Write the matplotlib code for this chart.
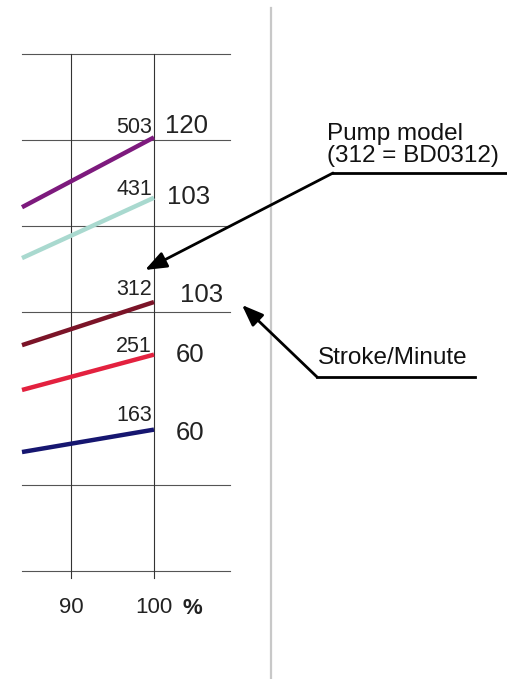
import matplotlib
matplotlib.use('Agg')
import matplotlib.pyplot as plt

plt.rcParams['font.family'] = ['Liberation Sans', 'DejaVu Sans']

# pump models, stroke rate, and line values at the left edge / at 100 %
models = ['503', '431', '312', '251', '163']
strokes = ['120', '103', '103', '60', '60']
x_pct = [84.1, 100]
y_left = [4.22, 3.63, 2.62, 2.10, 1.38]
y_right = [5.03, 4.33, 3.12, 2.51, 1.64]
colors = ['#7d1a7d', '#a9d9cf', '#7b1428', '#e3213f', '#161670']

grid_y = [0, 1, 3, 4, 5, 6]
tick_x = [90, 100]

fig = plt.figure(figsize=(5.07, 6.79), dpi=100)
ax = fig.add_axes([0, 0, 1, 1])
ax.set_xlim(81.45, 142.53)
ax.set_ylim(-1.253, 6.624)
ax.axis('off')

# grid
for gy in grid_y:
    ax.plot([84.1, 109.2], [gy, gy], color='#555555', lw=0.8, zorder=1)
for gx in tick_x:
    ax.plot([gx, gx], [-0.08, 6], color='#333333', lw=0.8, zorder=1)

# separator line
ax.plot([114.1, 114.1], [-1.3, 6.53], color='#c8c8c8', lw=1.6, zorder=1)

# pump lines and labels
lab_y_model = [5.15, 4.42, 3.27, 2.61, 1.80]
lab_y_stroke = [5.16, 4.34, 3.20, 2.50, 1.60]
lab_x_stroke = [101.3, 101.6, 103.1, 102.6, 102.6]
for i in range(len(models)):
    ax.plot(x_pct, [y_left[i], y_right[i]], color=colors[i], lw=3.2,
            solid_capstyle='butt', zorder=3)
    ax.text(99.75, lab_y_model[i], models[i], ha='right', va='center',
            fontsize=15.5, color='#222222')
    ax.text(lab_x_stroke[i], lab_y_stroke[i], strokes[i], ha='left', va='center',
            fontsize=18.5, color='#222222')

# x tick labels
ax.text(90, -0.42, '90', ha='center', va='center', fontsize=16, color='#222222')
ax.text(100, -0.42, '100', ha='center', va='center', fontsize=16, color='#222222')
ax.text(103.4, -0.44, '%', ha='left', va='center', fontsize=16,
        fontweight='bold', color='#222222')

# callouts
ax.text(120.84, 4.94, 'Pump model\n(312 = BD0312)', ha='left', va='center',
        fontsize=17.5, linespacing=1.0, color='#111111')
ax.plot([121.57, 143], [4.617, 4.617], color='black', lw=2, zorder=4)
ax.annotate('', xy=(98.92, 3.492), xytext=(121.57, 4.617),
            arrowprops=dict(arrowstyle='-|>,head_length=1.3,head_width=0.5',
                            color='black', lw=2, shrinkA=0, shrinkB=0), zorder=4)

ax.text(119.76, 2.471, 'Stroke/Minute', ha='left', va='center',
        fontsize=17.5, color='#111111')
ax.plot([119.64, 138.67], [2.251, 2.251], color='black', lw=2, zorder=4)
ax.annotate('', xy=(110.6, 3.086), xytext=(119.64, 2.251),
            arrowprops=dict(arrowstyle='-|>,head_length=1.3,head_width=0.5',
                            color='black', lw=2, shrinkA=0, shrinkB=0), zorder=4)

fig.savefig('out.png', dpi=100)
